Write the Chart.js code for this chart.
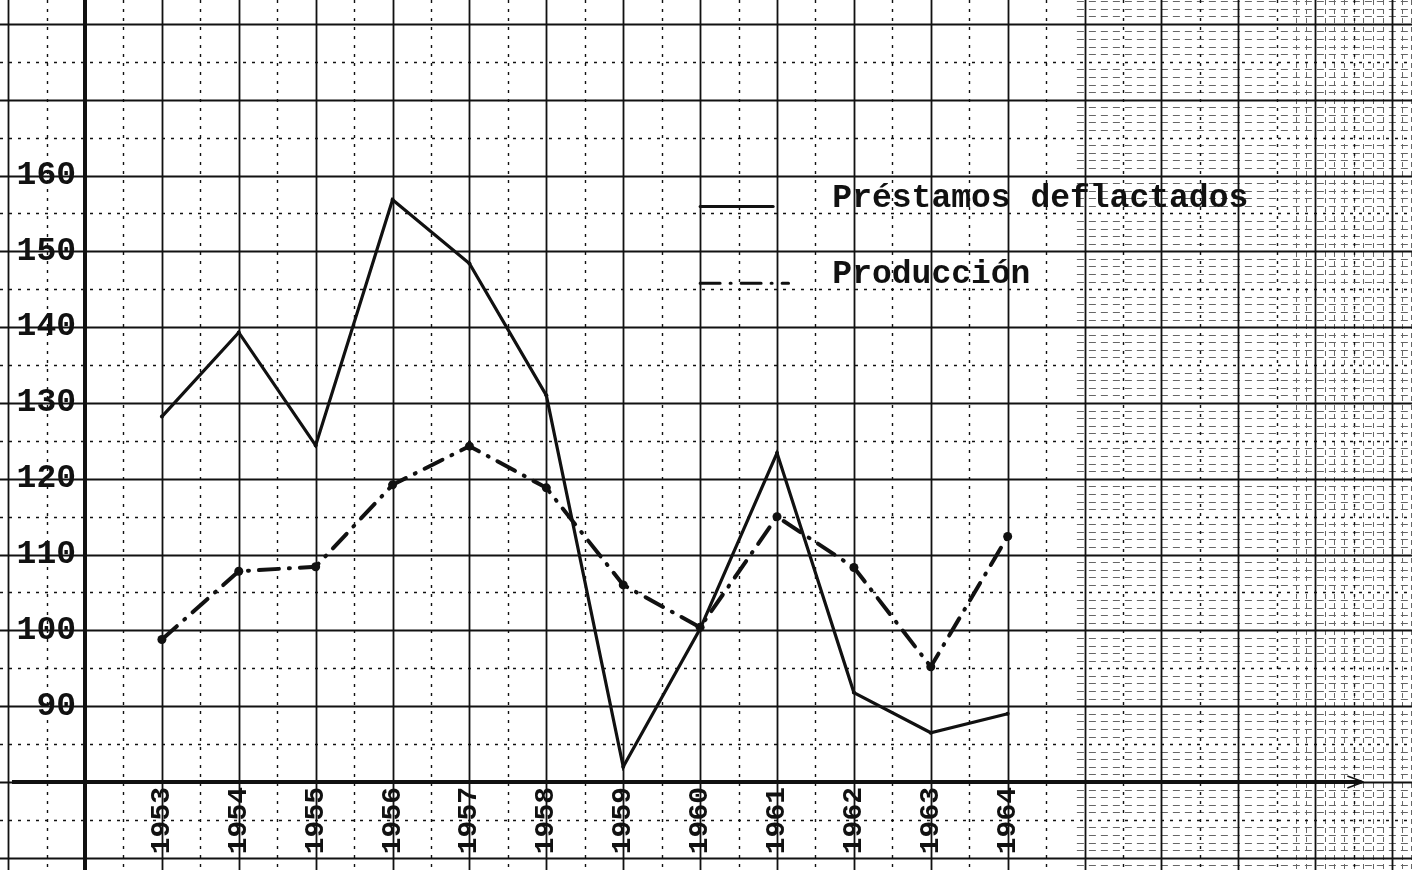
<!DOCTYPE html>
<html lang="es">
<head>
<meta charset="utf-8">
<title>Préstamos deflactados y Producción</title>
<script src="https://cdn.jsdelivr.net/npm/chart.js@4/dist/chart.umd.min.js"></script>
<style>
  html, body { margin: 0; padding: 0; background: #fff; }
  #wrap { width: 1412px; height: 870px; position: relative; }
</style>
</head>
<body>
<div id="wrap"><canvas id="chart"></canvas></div>
<script>
// datos
const years = [1953, 1954, 1955, 1956, 1957, 1958, 1959, 1960, 1961, 1962, 1963, 1964];
const prestamos = [128.2, 139.3, 124.4, 156.8, 148.4, 131.0, 82.0, 100.2, 123.4, 91.8, 86.5, 89.0];
const produccion = [98.8, 107.8, 108.4, 119.2, 124.3, 118.8, 106.0, 100.4, 115.0, 108.3, 95.2, 112.4];
const yTicks = [90, 100, 110, 120, 130, 140, 150, 160];
const seriesNames = ['Préstamos deflactados', 'Producción'];

const X_MIN = 1952, X_MAX = 1969.2;
const Y_MIN = 80, Y_MAX = 182.56;
const TYPE_FONT = '"Liberation Mono", "DejaVu Sans Mono", monospace';
const INK = '#111';
const PROD_DASH = [20, 10, 1, 10];

function stroke(ctx, x1, y1, x2, y2) {
    ctx.beginPath();
    ctx.moveTo(x1, y1);
    ctx.lineTo(x2, y2);
    ctx.stroke();
}

// papel milimetrado + ejes, dibujado con las escalas del grafico
const graphPaper = {
    id: 'graphPaper',
    beforeDraw(chart) {
        const { ctx, width, height } = chart;
        const x = chart.scales.x, y = chart.scales.y;
        ctx.save();
        ctx.fillStyle = '#fff';
        ctx.fillRect(0, 0, width, height);

        // zona densa a la derecha (cuadricula fina del papel)
        ctx.lineWidth = 1;
        ctx.strokeStyle = '#666';
        ctx.setLineDash([7, 5]);
        const denseLeft = x.getPixelForValue(1964.9);
        for (let v = 66; v <= 184; v++) {
            if (v % 5 === 0) continue;
            const py = Math.round(y.getPixelForValue(v)) + 0.5;
            stroke(ctx, denseLeft, py, width, py);
        }
        ctx.setLineDash([5, 4]);
        for (let yr = 1967.75; yr <= 1969.3; yr += 0.125) {
            const px = Math.round(x.getPixelForValue(yr)) + 0.5;
            stroke(ctx, px, 0, px, height);
        }

        ctx.strokeStyle = INK;
        // verticales: años (continuas) y medios años (punteadas)
        for (let yr = 1951; yr <= 1970; yr += 0.5) {
            const px = Math.round(x.getPixelForValue(yr)) + 0.5;
            const major = Number.isInteger(yr);
            ctx.lineWidth = major ? 1.8 : 1.4;
            ctx.setLineDash(major ? [] : [3, 6]);
            stroke(ctx, px, 0, px, height);
        }
        // horizontales: cada 10 continuas, cada 5 punteadas
        for (let v = 65; v <= 185; v += 5) {
            const py = Math.round(y.getPixelForValue(v)) + 0.5;
            const major = v % 10 === 0;
            ctx.lineWidth = major ? 2 : 1.4;
            ctx.setLineDash(major ? [] : [3, 6]);
            stroke(ctx, 0, py, width, py);
        }

        // ejes
        ctx.setLineDash([]);
        ctx.lineWidth = 4;
        const x0 = x.getPixelForValue(X_MIN);
        stroke(ctx, x0, 0, x0, height);
        const y0 = y.getPixelForValue(Y_MIN);
        const xEnd = x.getPixelForValue(1968.6);
        stroke(ctx, 12, y0, xEnd, y0);
        ctx.lineWidth = 1.5;
        stroke(ctx, xEnd - 14, y0 - 6, xEnd + 2, y0);
        stroke(ctx, xEnd - 14, y0 + 6, xEnd + 2, y0);
        stroke(ctx, xEnd - 20, y0, xEnd + 2, y0);
        ctx.restore();
    }
};

// leyenda mecanografiada dentro del area del grafico
const typedLegend = {
    id: 'typedLegend',
    afterDatasetsDraw(chart) {
        const { ctx } = chart;
        const x = chart.scales.x, y = chart.scales.y;
        const rows = [
            { label: seriesNames[0], yv: 155.9, x1: 1960.0, x2: 1960.95, dash: [] },
            { label: seriesNames[1], yv: 145.8, x1: 1960.0, x2: 1961.15, dash: PROD_DASH }
        ];
        ctx.save();
        ctx.strokeStyle = INK;
        ctx.fillStyle = INK;
        ctx.lineCap = 'round';
        ctx.font = 'bold 33px ' + TYPE_FONT;
        ctx.textAlign = 'left';
        ctx.textBaseline = 'alphabetic';
        rows.forEach(r => {
            const py = y.getPixelForValue(r.yv);
            ctx.lineWidth = 3;
            ctx.setLineDash(r.dash);
            stroke(ctx, x.getPixelForValue(r.x1), py, x.getPixelForValue(r.x2), py);
            ctx.setLineDash([]);
            ctx.fillText(r.label, x.getPixelForValue(1961.72), py);
        });
        ctx.restore();
    }
};

const ctx = document.getElementById('chart').getContext('2d');
new Chart(ctx, {
    type: 'line',
    data: {
        datasets: [{
            label: seriesNames[0],
            data: years.map((yr, i) => ({ x: yr, y: prestamos[i] })),
            borderColor: INK,
            backgroundColor: INK,
            borderWidth: 3.2,
            pointRadius: 2,
            pointBorderWidth: 0,
            tension: 0
        }, {
            label: seriesNames[1],
            data: years.map((yr, i) => ({ x: yr, y: produccion[i] })),
            borderColor: INK,
            backgroundColor: INK,
            borderWidth: 4,
            borderDash: PROD_DASH,
            borderCapStyle: 'round',
            pointRadius: 4.5,
            pointBorderWidth: 0,
            tension: 0
        }]
    },
    options: {
        responsive: true,
        maintainAspectRatio: false,
        animation: false,
        layout: { padding: 0 },
        plugins: {
            legend: { display: false },
            tooltip: { enabled: false }
        },
        scales: {
            x: {
                type: 'linear',
                min: X_MIN,
                max: X_MAX,
                grid: { display: false, drawTicks: false },
                border: { display: false },
                afterBuildTicks: s => { s.ticks = years.map(v => ({ value: v })); },
                afterFit: s => {
                    s.height = 88;
                    s.paddingLeft = 0;
                    s.paddingRight = 0;
                },
                ticks: {
                    autoSkip: false,
                    minRotation: 90,
                    maxRotation: 90,
                    padding: 5,
                    color: INK,
                    font: { family: TYPE_FONT, size: 28, weight: 'bold' },
                    callback: v => String(v)
                }
            },
            y: {
                min: Y_MIN,
                max: Y_MAX,
                grid: { display: false, drawTicks: false },
                border: { display: false },
                afterBuildTicks: s => { s.ticks = yTicks.map(v => ({ value: v })); },
                afterFit: s => {
                    s.width = 85;
                    s.paddingTop = 0;
                    s.paddingBottom = 0;
                },
                ticks: {
                    padding: 9,
                    color: INK,
                    font: { family: TYPE_FONT, size: 33, weight: 'bold' },
                    callback: v => String(v)
                }
            }
        }
    },
    plugins: [graphPaper, typedLegend]
});
</script>
</body>
</html>
